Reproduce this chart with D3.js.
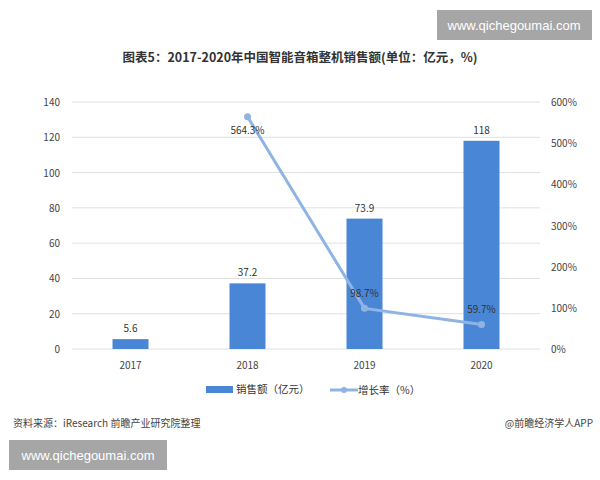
<!DOCTYPE html><html><head><meta charset="utf-8"><script src="https://cdn.jsdelivr.net/npm/d3@7"></script>
<style>body{margin:0;background:#fff}text{font-family:"Noto Sans CJK SC",sans-serif}</style></head><body><svg id="c" width="600" height="480"></svg><script>
const years=["2017","2018","2019","2020"];
const sales=[5.6,37.2,73.9,118];
const growth=[null,564.3,98.7,59.7];
const leftTicks=[0,20,40,60,80,100,120,140];
const rightTicks=[0,100,200,300,400,500,600];
const svg=d3.select("#c");
const L=72,R=540,T=102,B=349;
const x=d3.scaleBand().domain(years).range([L,R]);
const y=d3.scaleLinear().domain([0,140]).range([B,T]);
const y2=d3.scaleLinear().domain([0,600]).range([B,T]);
// watermark boxes
svg.append("rect").attr("x",437).attr("y",10).attr("width",155).attr("height",30).attr("fill","#a6a6a6");
svg.append("text").attr("x",514).attr("y",30).attr("text-anchor","middle").attr("fill","#fff").attr("font-size",13).style("font-family","Arial,Liberation Sans").text("www.qichegoumai.com");
svg.append("rect").attr("x",9).attr("y",440).attr("width",158).attr("height",30).attr("fill","#a6a6a6");
svg.append("text").attr("x",88).attr("y",460).attr("text-anchor","middle").attr("fill","#fff").attr("font-size",13).style("font-family","Arial,Liberation Sans").text("www.qichegoumai.com");
svg.append("text").attr("x",300).attr("y",62).attr("text-anchor","middle").attr("font-size",12.5).attr("font-weight","bold").attr("fill","#333").text("图表5：2017-2020年中国智能音箱整机销售额(单位：亿元，%)");
svg.append("g").selectAll("line").data(leftTicks).join("line").attr("x1",L).attr("x2",R).attr("y1",d=>y(d)).attr("y2",d=>y(d)).attr("stroke","#e0e0e0");
svg.append("g").selectAll("text").data(leftTicks).join("text").attr("x",60).attr("y",d=>y(d)+4).attr("text-anchor","end").attr("font-size",10).attr("fill","#444").text(d=>d);
svg.append("g").selectAll("text").data(rightTicks).join("text").attr("x",551).attr("y",d=>y2(d)+4).attr("font-size",10).attr("fill","#444").text(d=>d+"%");
svg.append("g").selectAll("text").data(years).join("text").attr("x",d=>x(d)+x.bandwidth()/2).attr("y",369).attr("text-anchor","middle").attr("font-size",10).attr("fill","#444").text(d=>d);
const bw=36;
svg.append("g").selectAll("rect").data(sales).join("rect").attr("x",(d,i)=>x(years[i])+x.bandwidth()/2-bw/2).attr("y",d=>y(d)).attr("width",bw).attr("height",d=>B-y(d)).attr("fill","#4a86d6");
svg.append("g").selectAll("text").data(sales).join("text").attr("x",(d,i)=>x(years[i])+x.bandwidth()/2).attr("y",d=>y(d)-7).attr("text-anchor","middle").attr("font-size",10).attr("fill","#333").text(d=>d);
const pts=growth.map((g,i)=>({g,i})).filter(d=>d.g!=null);
const cx=d=>x(years[d.i])+x.bandwidth()/2;
svg.append("path").datum(pts).attr("d",d3.line().x(cx).y(d=>y2(d.g))).attr("fill","none").attr("stroke","#8fb4e3").attr("stroke-width",3);
svg.append("g").selectAll("circle").data(pts).join("circle").attr("cx",cx).attr("cy",d=>y2(d.g)).attr("r",3.5).attr("fill","#8fb4e3");
svg.append("g").selectAll("text").data(pts).join("text").attr("x",cx).attr("y",d=>y2(d.g)-(d.i==1?-15:-1)).attr("dy",d=>d.i==1?2:-12).attr("text-anchor","middle").attr("font-size",10).attr("fill","#333").text(d=>d.g+"%");
// legend
svg.append("rect").attr("x",206).attr("y",386).attr("width",27).attr("height",7).attr("fill","#4a86d6");
svg.append("text").attr("x",236).attr("y",393).attr("font-size",10.5).attr("fill","#333").text("销售额（亿元）");
svg.append("line").attr("x1",330).attr("x2",358).attr("y1",390).attr("y2",390).attr("stroke","#8fb4e3").attr("stroke-width",3);
svg.append("circle").attr("cx",344).attr("cy",390).attr("r",3).attr("fill","#8fb4e3");
svg.append("text").attr("x",358).attr("y",394).attr("font-size",10.5).attr("fill","#333").text("增长率（%）");
svg.append("text").attr("x",13).attr("y",427).attr("font-size",10).attr("fill","#444").text("资料来源：iResearch 前瞻产业研究院整理");
svg.append("text").attr("x",593).attr("y",427).attr("text-anchor","end").attr("font-size",10).attr("fill","#444").text("@前瞻经济学人APP");
</script></body></html>
